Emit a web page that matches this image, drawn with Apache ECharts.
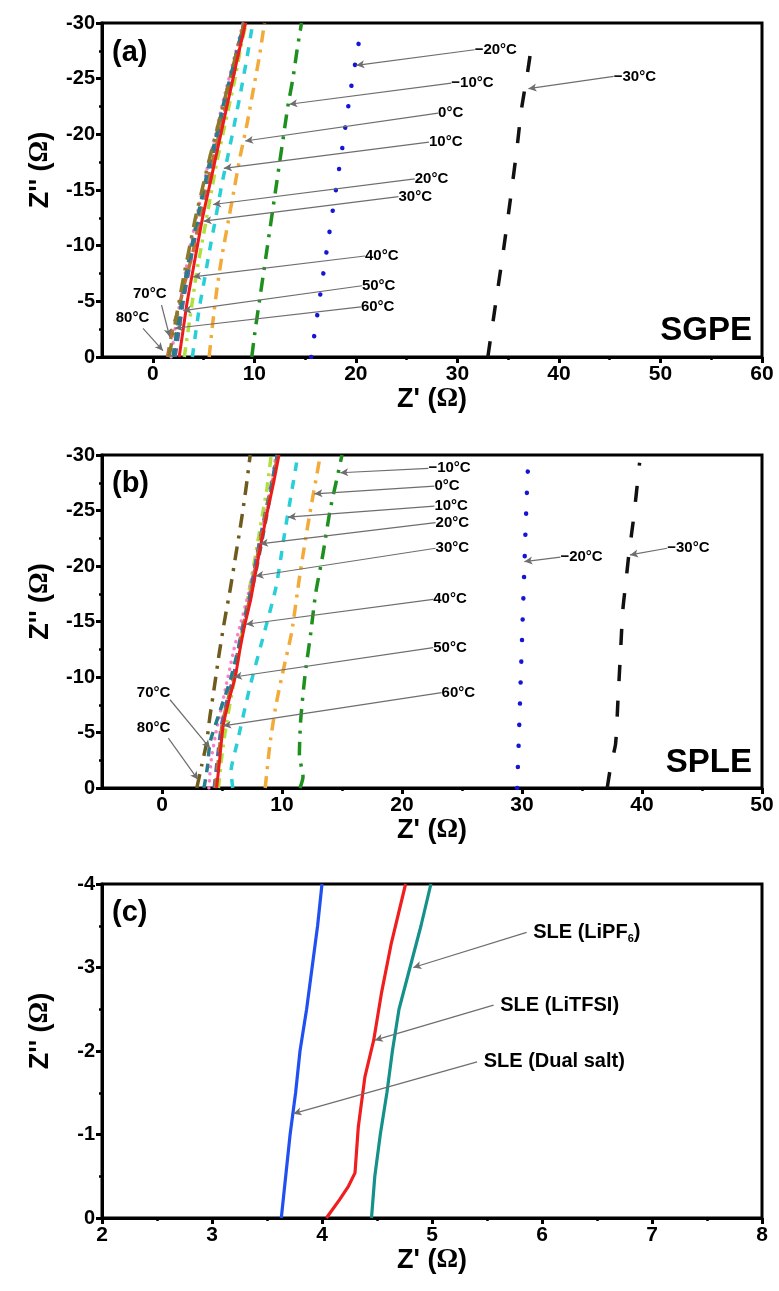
<!DOCTYPE html>
<html>
<head>
<meta charset="utf-8">
<script src="https://cdn.jsdelivr.net/npm/echarts@6/dist/echarts.min.js"></script>
<style>
html,body{margin:0;padding:0;background:#fff}
#c{width:779px;height:1291px}
</style>
</head>
<body>
<div id="c"></div>
<script>
// Temperature labels, coldest to hottest
const temps = ['−30°C','−20°C','−10°C','0°C','10°C','20°C','30°C','40°C','50°C','60°C','70°C','80°C'];

// Axis tick values
const xTicksA = [0,10,20,30,40,50,60];
const xMinorA = [5,15,25,35,45,55];
const xTicksB = [0,10,20,30,40,50];
const xMinorB = [5,15,25,35,45];

// (a) SGPE Nyquist curves, [Z', Z''] in ohm
const sgpe_m30 = [[33.0,0],[33.8,-5],[34.6,-10],[35.3,-14.7],[35.9,-19],[36.3,-22.2],[36.9,-25.5],[37.4,-28.6]];
const sgpe_m20 = [[15.6,0],[16.4,-5],[17.2,-10],[17.9,-14.2],[18.7,-19],[19.5,-24],[20.3,-28.3]];
const sgpe_m10 = [[9.75,0],[10.1,-2.5],[10.5,-5],[10.9,-7.5],[11.3,-10],[11.7,-12.5],[12.1,-15],[12.5,-17.5],[12.9,-20],[13.3,-22.5],[13.8,-25],[14.2,-27.5],[14.65,-30]];
const sgpe_0 = [[5.55,0],[5.9,-3],[6.3,-6],[6.8,-9],[7.4,-12],[8.0,-15],[8.6,-18],[9.3,-21],[10.0,-24.5],[10.5,-27],[11.0,-30]];
const sgpe_10 = [[3.9,0],[4.2,-2],[4.6,-4.5],[5.1,-7],[5.6,-9.6],[6.2,-12.5],[6.8,-15.5],[7.5,-18.5],[8.1,-21.2],[8.7,-24],[9.3,-27],[9.85,-30]];
const sgpe_20 = [[3.1,0],[3.5,-2.5],[3.9,-5],[4.3,-7.5],[4.8,-10],[5.3,-12.5],[5.8,-15],[6.3,-17.5],[6.9,-20],[7.5,-22.5],[8.1,-25],[8.6,-27.5],[9.2,-30]];
const sgpe_30 = [[2.6,0],[3.0,-2.5],[3.4,-5],[3.9,-7.5],[4.4,-10],[4.9,-12.5],[5.5,-15],[6.1,-17.5],[6.7,-20],[7.3,-22.5],[7.9,-25],[8.5,-27.5],[9.15,-30]];
const sgpe_40 = [[1.8,0],[2.2,-2.5],[2.7,-5],[3.2,-7.5],[3.7,-10],[4.3,-12.5],[4.9,-15],[5.5,-17.5],[6.2,-20],[6.8,-22.5],[7.5,-25],[8.2,-27.5],[8.9,-30]];
const sgpe_50 = [[2.2,0],[2.6,-2.5],[3.0,-5],[3.5,-7.5],[4.0,-10],[4.6,-12.5],[5.2,-15],[5.8,-17.5],[6.4,-20],[7.0,-22.5],[7.7,-25],[8.3,-27.5],[9.0,-30]];
const sgpe_60 = [[1.45,0],[2.0,-2.7],[2.6,-4.5],[3.1,-6.5],[3.5,-7.8],[4.1,-10],[4.9,-14],[5.6,-16.5],[6.4,-19.5],[7.2,-22.5],[8.0,-25.5],[8.6,-28],[9.1,-30]];
const sgpe_70 = [[2.0,0],[2.4,-2.5],[2.85,-5],[3.3,-7.5],[3.85,-10],[4.4,-12.5],[5.0,-15],[5.6,-17.5],[6.3,-20],[6.9,-22.5],[7.6,-25],[8.3,-27.5],[9.0,-30]];
const sgpe_80 = [[1.6,0],[2.1,-2.5],[2.6,-5],[3.1,-7.5],[3.65,-10],[4.2,-12.5],[4.85,-15],[5.5,-17.5],[6.2,-20],[6.9,-22.5],[7.6,-25],[8.3,-27.5],[9.0,-30]];

// (b) SPLE Nyquist curves
const sple_m30 = [[37.1,0],[37.4,-2],[37.8,-4],[38.0,-8],[38.2,-12],[38.4,-16],[38.7,-19],[38.9,-21],[39.3,-24.3],[39.8,-29.3]];
const sple_m20 = [[29.6,0],[29.75,-5],[29.9,-10],[30.05,-15],[30.2,-20],[30.35,-25],[30.5,-29]];
const sple_m10 = [[11.5,0],[11.75,-1],[11.45,-3],[11.55,-6],[11.9,-10],[12.4,-14],[12.8,-17.5],[13.4,-21],[14.0,-25],[14.5,-27.5],[15.0,-30]];
const sple_0 = [[8.6,0],[9.0,-4],[9.5,-7.5],[10.1,-10.6],[10.8,-14],[11.5,-19.3],[12.3,-24.6],[13.2,-30]];
const sple_10 = [[5.9,0],[5.75,-1.5],[6.25,-4],[7.3,-9],[8.5,-13.9],[9.5,-18.1],[10.3,-23.5],[11.2,-29.2],[11.3,-30]];
const sple_20 = [[4.7,0],[5.0,-3],[5.4,-6],[5.9,-9],[6.4,-12],[6.8,-15],[7.3,-18],[7.8,-21],[8.35,-24.5],[8.75,-27],[9.1,-30]];
const sple_30 = [[4.55,0],[4.8,-2.5],[5.1,-5.6],[5.6,-8],[6.1,-10],[6.5,-12.5],[6.9,-14.7],[7.4,-17],[7.75,-19.1],[8.3,-22.3],[8.8,-25],[9.3,-27.5],[9.75,-30]];
const sple_40 = [[3.9,0],[4.1,-2.5],[4.5,-5],[5.0,-7.5],[5.5,-10],[6.0,-12.5],[6.6,-15],[7.2,-17.5],[7.7,-20],[8.2,-22.5],[8.7,-25],[9.1,-27.5],[9.5,-30]];
const sple_50 = [[4.35,0],[4.6,-2.5],[4.95,-5.6],[5.45,-8],[5.95,-10],[6.35,-12.5],[6.75,-14.7],[7.25,-17],[7.6,-19.1],[8.15,-22.3],[8.65,-25],[9.15,-27.5],[9.6,-30]];
const sple_60 = [[4.45,0],[4.7,-2.5],[5.0,-5.6],[5.5,-8],[6.0,-10],[6.4,-12.5],[6.8,-14.7],[7.3,-17],[7.65,-19.1],[8.2,-22.3],[8.7,-25],[9.2,-27.5],[9.65,-30]];
const sple_70 = [[3.5,0],[3.8,-2],[4.0,-4.1],[4.7,-6.5],[5.7,-9.75],[6.8,-14.5],[7.9,-19.9],[8.8,-25],[9.6,-30]];
const sple_80 = [[2.9,0],[3.3,-2],[3.7,-4],[4.0,-6.5],[4.35,-9],[4.75,-12],[5.2,-15],[5.7,-18],[6.15,-21],[6.6,-24],[7.0,-27],[7.35,-30]];

// (c) SLE curves
const sleNames = ['SLE (Dual salt)','SLE (LiTFSI)','SLE (LiPF{sub|6})'];
const sle_dual = [[3.63,0],[3.67,-0.5],[3.71,-1],[3.76,-1.5],[3.8,-2],[3.86,-2.5],[3.91,-3],[3.96,-3.5],[4.0,-4]];
const sle_litfsi = [[4.04,0],[4.16,-0.22],[4.24,-0.38],[4.3,-0.54],[4.33,-1.09],[4.39,-1.69],[4.47,-2.13],[4.54,-2.69],[4.63,-3.29],[4.76,-4]];
const sle_lipf6 = [[4.45,0],[4.48,-0.5],[4.53,-1],[4.59,-1.5],[4.64,-2],[4.7,-2.5],[4.8,-3],[4.9,-3.5],[4.99,-4]];

// Callouts: [label index, text x, text y, line start x, line start y, tip x, tip y]
const calloutA = [
  [1,31.7,-27.6,31.7,-27.6,20.05,-26.2],
  [2,29.4,-24.6,29.4,-24.6,13.45,-22.7],
  [3,28.1,-21.9,28.1,-21.9,9.1,-19.4],
  [4,27.2,-19.3,27.2,-19.3,7.0,-16.95],
  [5,25.8,-16.0,25.8,-16.0,5.94,-13.7],
  [6,24.2,-14.4,24.2,-14.4,5.0,-12.2],
  [7,20.9,-9.07,20.9,-9.07,3.97,-7.2],
  [8,20.6,-6.4,20.6,-6.4,3.0,-4.16],
  [9,20.5,-4.5,20.5,-4.5,2.17,-2.58],
  [10,-1.95,-5.7,0.86,-4.67,1.67,-1.82],
  [11,-3.65,-3.48,-0.96,-2.58,1.0,-0.57],
  [0,45.4,-25.2,45.4,-25.2,37.0,-24.1]
];
const calloutB = [
  [2,22.2,-28.8,22.2,-28.8,14.85,-28.4],
  [3,22.7,-27.2,22.7,-27.2,12.7,-26.5],
  [4,22.7,-25.4,22.7,-25.4,10.5,-24.4],
  [5,22.8,-23.9,22.8,-23.9,8.17,-22.0],
  [6,22.8,-21.6,22.8,-21.6,7.8,-19.1],
  [7,22.6,-17.0,22.6,-17.0,7.0,-14.75],
  [8,22.6,-12.65,22.6,-12.65,6.0,-10.0],
  [9,23.3,-8.6,23.3,-8.6,5.1,-5.6],
  [10,-2.1,-8.55,0.67,-7.95,4.0,-3.6],
  [11,-2.1,-5.4,0.53,-4.5,3.0,-0.76],
  [1,33.2,-20.8,33.2,-20.8,30.2,-20.4],
  [0,42.1,-21.6,42.1,-21.6,39.0,-21.0]
];
const calloutC = [
  [2,5.92,-3.42,5.86,-3.42,4.83,-3.0],
  [1,5.62,-2.55,5.56,-2.55,4.48,-2.13],
  [0,5.47,-1.87,5.41,-1.87,3.74,-1.25]
];

const FONT = '"Liberation Sans", Arial, sans-serif';

// Line styles per temperature (same order as temps)
const stylesA = [
  {color:'#111111', width:3.5, type:[16,20]},
  {color:'#1515d6', width:4.5, type:[0.1,21], cap:'round'},
  {color:'#1d901d', width:3.5, type:[14,8,3,8]},
  {color:'#f2aa38', width:3.5, type:[12,7,3,7]},
  {color:'#28cfd6', width:3.5, type:[9,9]},
  {color:'#aee040', width:3.5, type:[10,6,3,6]},
  {color:'#ee1b1b', width:3, type:'solid'},
  {color:'#ff7ccc', width:3.5, type:[0.1,7], cap:'round'},
  {color:'#56699c', width:3.5, type:[9,7]},
  {color:'#b8743a', width:3.5, type:[10,8]},
  {color:'#267e8c', width:3.5, type:[9,7]},
  {color:'#8a7a2a', width:3.5, type:[14,8,3,8]}
];
const stylesB = stylesA.map((s, i) => i === 11 ? Object.assign({}, s, {color:'#6f5b1d'}) : s);
const sleColors = ['#2150f2','#f01e1e','#14918a'];

const sgpeCurves = [sgpe_m30,sgpe_m20,sgpe_m10,sgpe_0,sgpe_10,sgpe_20,sgpe_30,sgpe_40,sgpe_50,sgpe_60,sgpe_70,sgpe_80];
const spleCurves = [sple_m30,sple_m20,sple_m10,sple_0,sple_10,sple_20,sple_30,sple_40,sple_50,sple_60,sple_70,sple_80];
const sleCurves = [sle_dual, sle_litfsi, sle_lipf6];

const axisNameRich = {
  s:{fontSize:27, fontWeight:'bold', fontFamily:FONT, color:'#000'},
  o:{fontSize:27, fontWeight:'bold', fontFamily:'"Liberation Serif", serif', color:'#000'}
};
const xName = "{s|Z' (}{o|Ω}{s|)}";
const yName = "{s|Z'' (}{o|Ω}{s|)}";

const grids = [
  {left:102, top:23, width:660, height:334},
  {left:102, top:455, width:660, height:333},
  {left:102, top:884, width:660, height:334}
].map(g => Object.assign(g, {show:true, borderColor:'#000', borderWidth:3, containLabel:false}));

function baseAxis(gridIndex){
  return {
    gridIndex,
    axisLine:{show:true, onZero:false, lineStyle:{color:'#000', width:3}},
    axisTick:{show:true, inside:false, length:6, lineStyle:{color:'#000', width:3}},
    splitLine:{show:false},
    axisLabel:{color:'#000', fontWeight:'bold', fontSize:21, fontFamily:FONT, margin:7}
  };
}
function xMain(gridIndex, min, max, interval, labels){
  const a = baseAxis(gridIndex);
  Object.assign(a, {type:'value', position:'bottom', min, max, interval,
    name:xName, nameLocation:'middle', nameGap:29, nameTextStyle:{rich:axisNameRich}});
  if (labels) {
    a.axisLabel.customValues = labels;
    a.axisTick.customValues = labels;
  } else {
    a.minorTick = {show:true, splitNumber:2, length:3, lineStyle:{color:'#000', width:2.5}};
  }
  return a;
}
function xMinor(gridIndex, min, max, vals){
  return {type:'value', gridIndex, position:'bottom', min, max,
    axisLine:{show:false}, splitLine:{show:false}, axisLabel:{show:false},
    axisTick:{show:true, length:3, customValues:vals, lineStyle:{color:'#000', width:2.5}}};
}
function yMain(gridIndex, min, max, interval){
  const a = baseAxis(gridIndex);
  Object.assign(a, {type:'value', position:'left', min, max, interval, inverse:true,
    name:yName, nameLocation:'middle', nameGap:48, nameTextStyle:{rich:axisNameRich, padding:[0,0,0,40]},
    minorTick:{show:true, splitNumber:2, length:3, lineStyle:{color:'#000', width:2.5}}});
  a.axisLabel.fontSize = 20;
  return a;
}

const xAxes = [
  xMain(0,-5,60,5,xTicksA), xMain(1,-5,50,5,xTicksB), xMain(2,2,8,1,null),
  xMinor(0,-5,60,xMinorA), xMinor(1,-5,50,xMinorB)
];
const yAxes = [yMain(0,-30,0,5), yMain(1,-30,0,5), yMain(2,-4,0,1)];

const series = [];
function addCurves(curves, styles, axisIdx){
  curves.forEach((d, i) => {
    const st = styles[i];
    series.push({
      type:'line', xAxisIndex:axisIdx, yAxisIndex:axisIdx, data:d,
      symbol:'none', showSymbol:false, smooth:0.2, z: i === 6 ? 4 : 3,
      lineStyle:{color:st.color, width:st.width, type:st.type, cap:st.cap || 'butt', join:'round'},
      silent:true
    });
  });
}
addCurves(sgpeCurves, stylesA, 0);
addCurves(spleCurves, stylesB, 1);
sleCurves.forEach((d, i) => series.push({
  type:'line', xAxisIndex:2, yAxisIndex:2, data:d, symbol:'none', showSymbol:false,
  lineStyle:{color:sleColors[i], width:3.2}, z:3, silent:true
}));

function addCallouts(list, names, axisIdx, fontSize){
  series.push({
    type:'scatter', xAxisIndex:axisIdx, yAxisIndex:axisIdx, symbolSize:0, z:6, silent:true,
    itemStyle:{opacity:1},
    data:list.map(c => ({value:[c[1], c[2]], name:names[c[0]]})),
    label:{show:true, position:'right', distance:0, color:'#000', opacity:1, fontWeight:'bold',
      fontSize, fontFamily:FONT, formatter:p => p.name,
      rich:{sub:{fontSize:Math.round(fontSize*0.55), fontWeight:'bold', fontFamily:FONT, color:'#000', padding:[14,0,0,0]}}},
    markLine:{
      silent:true, animation:false, symbol:['none','arrow'], symbolSize:[6,8],
      label:{show:false},
      lineStyle:{color:'#6e6e6e', width:1.2, type:'solid', opacity:1},
      emphasis:{disabled:true},
      data:list.map(c => [{coord:[c[3], c[4]]}, {coord:[c[5], c[6]]}])
    }
  });
}
addCallouts(calloutA, temps, 0, 15);
addCallouts(calloutB, temps, 1, 15);
addCallouts(calloutC, sleNames, 2, 20);

const txt = (x, y, text, size, align) => ({type:'text', x, y, z:10,
  style:{text, fill:'#000', font:`bold ${size}px ${FONT}`, textAlign:align || 'left', textVerticalAlign:'middle'}});

const chart = echarts.init(document.getElementById('c'));
chart.setOption({
  animation:false,
  backgroundColor:'#fff',
  grid:grids,
  xAxis:xAxes,
  yAxis:yAxes,
  series,
  graphic:[
    txt(112,53,'(a)',29), txt(112,484,'(b)',29), txt(112,913,'(c)',29),
    txt(752,331,'SGPE',33,'right'), txt(752,763,'SPLE',33,'right')
  ]
});
</script>
</body>
</html>
